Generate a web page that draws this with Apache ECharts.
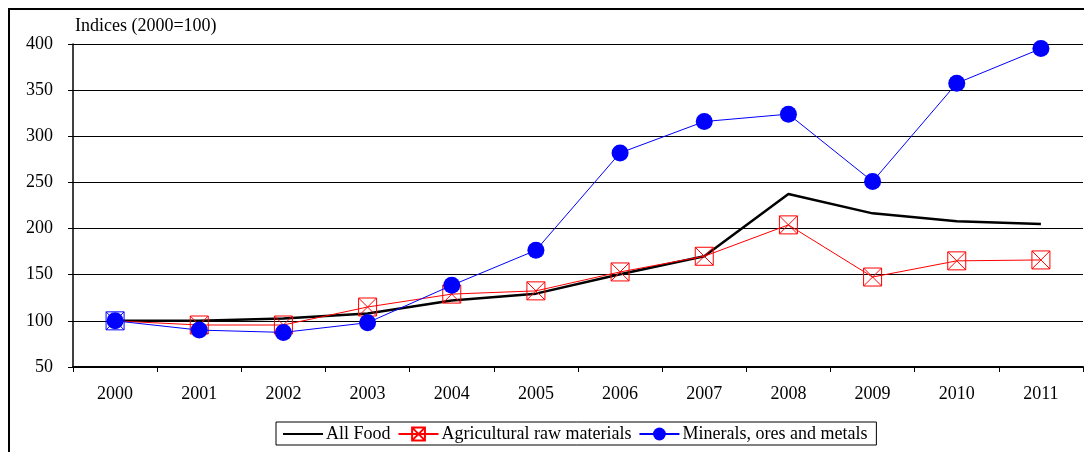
<!DOCTYPE html>
<html>
<head>
<meta charset="utf-8">
<script src="https://cdn.jsdelivr.net/npm/echarts@6/dist/echarts.min.js"></script>
<style>
html,body{margin:0;padding:0;background:#fff;}
#c{width:1084px;height:452px;}
</style>
</head>
<body>
<div id="c"></div>
<script>
const years = ['2000','2001','2002','2003','2004','2005','2006','2007','2008','2009','2010','2011'];
const allFood = [100, 100, 102.5, 108, 122, 129.5, 150.5, 170, 237.5, 216.5, 208, 205];
const agriRaw = [100, 95.5, 95.5, 115, 129, 132.5, 153, 170, 204, 147.5, 165, 166];
const minerals = [100, 90, 87.5, 98, 138.5, 176.5, 282, 316, 324, 251, 357.5, 395];
const yTicks = {min: 50, max: 400, interval: 50};
const yTitle = 'Indices (2000=100)';

const serif = '"Liberation Serif", "DejaVu Serif", serif';
const squareX = 'path://M0,0H10V10H0Z M0,0L10,10 M10,0L0,10';

const chart = echarts.init(document.getElementById('c'), null, {renderer: 'canvas'});
chart.setOption({
  backgroundColor: '#fff',
  animation: false,
  grid: {left: 73, right: 1, top: 44, bottom: 85, containLabel: false},
  graphic: [
    {type: 'rect', shape: {x: 9, y: 9, width: 1200, height: 600}, style: {fill: 'none', stroke: '#000', lineWidth: 2}, silent: true},
    {type: 'text', left: 75, top: 17, style: {text: yTitle, font: '18px ' + serif, fill: '#000'}}
  ],
  xAxis: {
    type: 'category',
    data: years,
    boundaryGap: true,
    axisLine: {show: true, lineStyle: {color: '#000', width: 2}},
    axisTick: {show: true, inside: false, length: 5, interval: 0, lineStyle: {color: '#000', width: 1}},
    axisLabel: {color: '#000', fontFamily: serif, fontSize: 18, margin: 18, interval: 0},
    splitLine: {show: false}
  },
  yAxis: {
    type: 'value',
    min: yTicks.min, max: yTicks.max, interval: yTicks.interval,
    axisLine: {show: true, lineStyle: {color: '#000', width: 1.5}},
    axisTick: {show: true, inside: false, length: 5, lineStyle: {color: '#000', width: 1}},
    axisLabel: {color: '#000', fontFamily: serif, fontSize: 18, margin: 20},
    splitLine: {show: true, lineStyle: {color: '#000', width: 1}}
  },
  legend: {
    left: 276, top: 422,
    orient: 'horizontal',
    borderColor: '#000', borderWidth: 1,
    padding: [3, 9, 2, 6],
    itemWidth: 40, itemHeight: 16, itemGap: 7,
    textStyle: {color: '#000', fontFamily: serif, fontSize: 18, padding: [0, 0, 0, -2]},
    data: ['All Food', 'Agricultural raw materials', 'Minerals, ores and metals']
  },
  series: [
    {
      name: 'All Food', type: 'line', data: allFood,
      symbol: 'circle', showSymbol: false,
      lineStyle: {color: '#000', width: 2.5},
      itemStyle: {color: 'rgba(0,0,0,0)'},
      z: 2
    },
    {
      name: 'Agricultural raw materials', type: 'line',
      data: agriRaw.map((v, i) => i === 0 ? {value: v, itemStyle: {borderColor: '#0000ff'}} : v),
      symbol: squareX, symbolSize: 18, showAllSymbol: true,
      lineStyle: {color: '#ff0000', width: 1},
      itemStyle: {color: 'rgba(0,0,0,0)', borderColor: '#ff0000', borderWidth: 1},
      z: 3
    },
    {
      name: 'Minerals, ores and metals', type: 'line', data: minerals,
      symbol: 'circle', symbolSize: 17, showAllSymbol: true,
      lineStyle: {color: '#0000ff', width: 1},
      itemStyle: {color: '#0000ff', borderWidth: 0},
      z: 4
    }
  ]
});
</script>
</body>
</html>
